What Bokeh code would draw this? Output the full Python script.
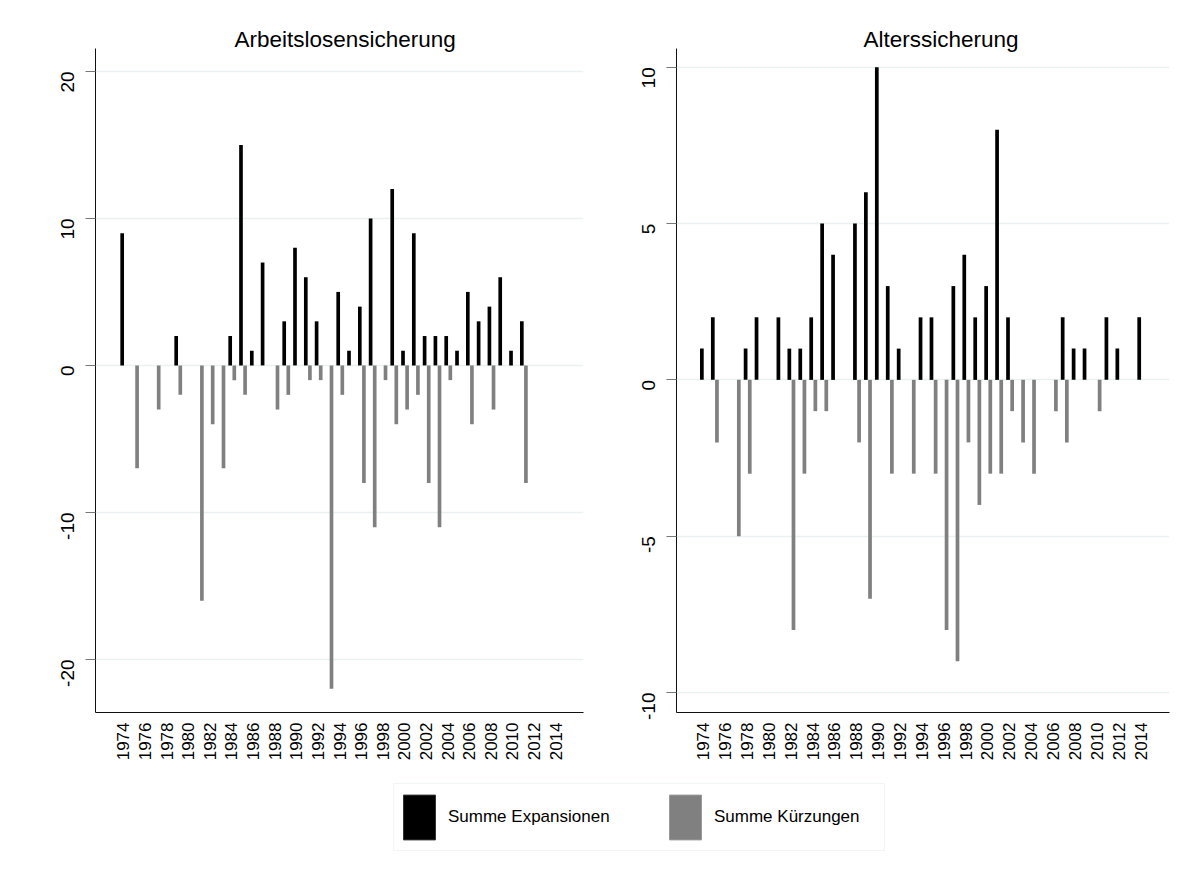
import math
from bokeh.plotting import figure
from bokeh.layouts import column, row
from bokeh.models import (Range1d, FixedTicker, Legend, LegendItem,
                          ColumnDataSource)
from bokeh.transform import dodge
from bokeh.embed import file_html
from bokeh.resources import INLINE

# ---------------- data ----------------
tick_years = list(range(1974, 2015, 2))

# Arbeitslosensicherung
alv_exp_years = [1974, 1979, 1984, 1985, 1986, 1987, 1989, 1990, 1991, 1992, 1994,
                 1995, 1996, 1997, 1999, 2000, 2001, 2002, 2003, 2004, 2005, 2006,
                 2007, 2008, 2009, 2010, 2011]
alv_exp_vals = [9, 2, 2, 15, 1, 7, 3, 8, 6, 3, 5,
                1, 4, 10, 12, 1, 9, 2, 2, 2, 1, 5,
                3, 4, 6, 1, 3]
alv_cut_years = [1975, 1977, 1979, 1981, 1982, 1983, 1984, 1985, 1988, 1989, 1991,
                 1992, 1993, 1994, 1996, 1997, 1998, 1999, 2000, 2001, 2002, 2003,
                 2004, 2006, 2008, 2011]
alv_cut_vals = [-7, -3, -2, -16, -4, -7, -1, -2, -3, -2, -1,
                -1, -22, -2, -8, -11, -1, -4, -3, -2, -8, -11,
                -1, -4, -3, -8]

# Alterssicherung
rv_exp_years = [1974, 1975, 1978, 1979, 1981, 1982, 1983, 1984, 1985, 1986, 1988,
                1989, 1990, 1991, 1992, 1994, 1995, 1997, 1998, 1999, 2000, 2001,
                2002, 2007, 2008, 2009, 2011, 2012, 2014]
rv_exp_vals = [1, 2, 1, 2, 2, 1, 1, 2, 5, 4, 5,
               6, 10, 3, 1, 2, 2, 3, 4, 2, 3, 8,
               2, 2, 1, 1, 2, 1, 2]
rv_cut_years = [1975, 1977, 1978, 1982, 1983, 1984, 1985, 1988, 1989, 1991, 1993,
                1995, 1996, 1997, 1998, 1999, 2000, 2001, 2002, 2003, 2004, 2006,
                2007, 2010]
rv_cut_vals = [-2, -5, -3, -8, -3, -1, -1, -2, -7, -3, -3,
               -3, -8, -9, -2, -4, -3, -3, -1, -2, -3, -1,
               -2, -1]

left_yticks = [-20, -10, 0, 10, 20]
right_yticks = [-10, -5, 0, 5, 10]

titles = ["Arbeitslosensicherung", "Alterssicherung"]
legend_labels = ["Summe Expansionen", "Summe Kürzungen"]

EXP_COLOR = "#000000"
CUT_COLOR = "#808080"
GRID_COLOR = "#eaf1f3"
FONT = "Liberation Sans"
BAR_W = 0.34


def make_panel(title, exp_years, exp_vals, cut_years, cut_vals, yticks,
               width, height, mb_left, mb_right, mb_top, mb_bottom,
               xr, yr, title_offset):
    p = figure(width=width, height=height, output_backend="svg",
               toolbar_location=None, x_range=Range1d(*xr), y_range=Range1d(*yr),
               min_border_left=mb_left, min_border_right=mb_right,
               min_border_top=mb_top, min_border_bottom=mb_bottom)
    p.outline_line_color = None
    p.background_fill_color = "white"
    p.border_fill_color = "white"

    p.title.text = title
    p.title.align = "left"
    p.title.offset = title_offset
    p.title.standoff = -6
    p.title.text_baseline = "alphabetic"
    p.title.text_font = FONT
    p.title.text_font_size = "22.5px"
    p.title.text_font_style = "normal"
    p.title.text_color = "black"

    src_e = ColumnDataSource(dict(year=exp_years, val=exp_vals))
    src_c = ColumnDataSource(dict(year=cut_years, val=cut_vals))
    p.vbar(x=dodge("year", -0.12, range=p.x_range), top="val", bottom=0,
           width=BAR_W, source=src_e, fill_color=EXP_COLOR, line_color=None)
    p.vbar(x=dodge("year", 0.26, range=p.x_range), top="val", bottom=0,
           width=BAR_W, source=src_c, fill_color=CUT_COLOR, line_color=None)

    # x axis
    xa = p.xaxis[0]
    xa.ticker = FixedTicker(ticks=tick_years)
    xa.major_label_orientation = math.pi / 2
    xa.major_tick_out = 0
    xa.major_tick_in = 0
    xa.minor_tick_out = 0
    xa.minor_tick_in = 0
    xa.axis_line_color = "#111111"
    xa.major_label_standoff = 10
    xa.major_label_text_font = FONT
    xa.major_label_text_font_size = "17px"
    xa.major_label_text_color = "black"

    # y axis
    ya = p.yaxis[0]
    ya.ticker = FixedTicker(ticks=yticks)
    ya.major_label_overrides = {v: str(v) for v in yticks}
    ya.major_label_orientation = math.pi / 2
    ya.major_tick_out = 10
    ya.major_tick_in = 0
    ya.minor_tick_out = 0
    ya.minor_tick_in = 0
    ya.major_tick_line_color = "#777777"
    ya.axis_line_color = "#111111"
    ya.major_label_standoff = 18
    ya.major_label_text_font = FONT
    ya.major_label_text_font_size = "19px"
    ya.major_label_text_color = "black"

    p.xgrid.grid_line_color = None
    p.ygrid.ticker = FixedTicker(ticks=yticks)
    p.ygrid.grid_line_color = GRID_COLOR
    p.ygrid.grid_line_width = 1.3
    return p


left = make_panel(titles[0], alv_exp_years, alv_exp_vals, alv_cut_years, alv_cut_vals,
                  left_yticks, 600, 775, 95, 17, 48, 63,
                  (1971.41, 2016.59), (-23.61, 21.56), 139)
right = make_panel(titles[1], rv_exp_years, rv_exp_vals, rv_cut_years, rv_cut_vals,
                   right_yticks, 590, 775, 76, 21, 48, 63,
                   (1971.56, 2016.65), (-10.64, 10.60), 187)

# legend strip
lg = figure(width=1190, height=91, output_backend="svg", toolbar_location=None,
            x_range=Range1d(0, 1), y_range=Range1d(0, 1),
            min_border_left=0, min_border_right=0, min_border_top=0, min_border_bottom=0)
lg.axis.visible = False
lg.grid.visible = False
lg.outline_line_color = None
lg.background_fill_color = "white"
r1 = lg.vbar(x=[-5], top=[0], width=0.1, fill_color=EXP_COLOR, line_color="#333333")
r2 = lg.vbar(x=[-5], top=[0], width=0.1, fill_color=CUT_COLOR, line_color="#999999")
legend = Legend(items=[LegendItem(label=legend_labels[0], renderers=[r1]),
                       LegendItem(label=legend_labels[1], renderers=[r2])],
                orientation="horizontal", location=(393, 15),
                glyph_width=40, glyph_height=56, label_standoff=9, spacing=52,
                padding=5, margin=0, label_width=165,
                border_line_color="#e4eced", border_line_width=1.3,
                label_text_font=FONT, label_text_font_size="17px",
                label_text_color="black", background_fill_color="white")
lg.add_layout(legend, "center")

layout = column(row(left, right), lg)

open("out.html", "w").write(file_html(layout, INLINE))
